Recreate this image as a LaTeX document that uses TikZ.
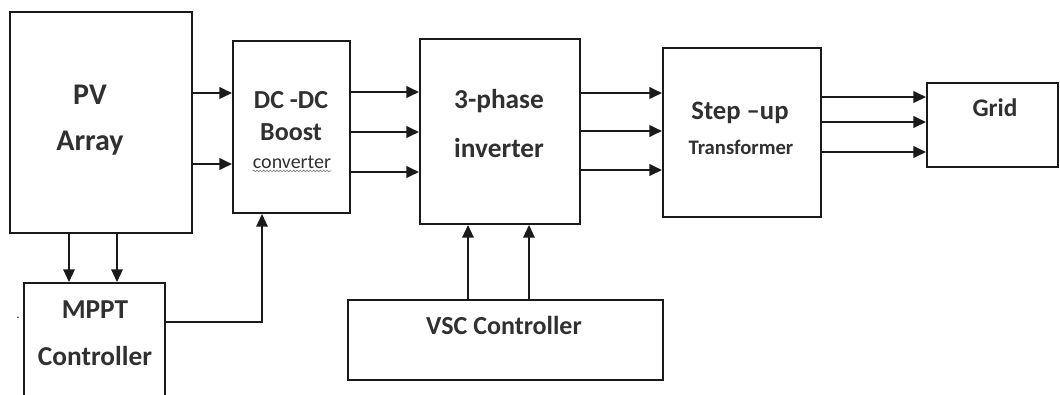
\documentclass[tikz,border=0pt]{standalone}
\usepackage{fontspec}
\setmainfont{Carlito}
\usetikzlibrary{arrows.meta,decorations.pathmorphing}
\definecolor{pvLine}{HTML}{1A1A1A}
\definecolor{pvText}{HTML}{303030}
\newcommand{\pvsize}[2]{\fontsize{#1pt}{#2pt}\selectfont}
\tikzset{
  pvbox/.style 2 args={draw=pvLine,line width=1.4pt,minimum width=#1*0.75pt,
              minimum height=#2*0.75pt,inner sep=0pt},
  pvtxt/.style={text=pvText,align=center,inner sep=0pt},
  pvflow/.style={-{Triangle[length=9.5pt,width=8.5pt]},draw=pvLine,line width=2.1pt},
  pvthin/.style={pvflow,line width=1.5pt},
  pvsquig/.style={decorate,decoration={snake,amplitude=0.6pt,segment length=2.5pt},
              draw=pvText!60,line width=0.5pt},
}

\begin{document}
\begin{tikzpicture}[x=0.75pt,y=-0.75pt]
  \useasboundingbox (0,0) rectangle (1060,394);
  \clip (0,0) rectangle (1060,394);
  % blocks
  \node[pvbox={182}{221}] (pv)   at (101,122.5) {};
  \node[pvbox={117}{172}] (dcdc) at (291.5,127) {};
  \node[pvbox={160}{185}] (inv)  at (500,131.5) {};
  \node[pvbox={158}{169}] (trf)  at (742,132.5) {};
  \node[pvbox={131}{84}]  (grid) at (992.5,125) {};
  \node[pvbox={315}{80}]  (vsc)  at (505.5,340) {};
  \node[pvbox={141}{117}] (mppt) at (94.5,341.5) {};

  % block texts
  \node[pvtxt,font=\bfseries\pvsize{22.5}{34.5}] (pvlbl) at (90,120) {PV\\Array};
  \node[pvtxt,font=\bfseries\pvsize{19.5}{24}] (dclbl) at (291,116) {DC -DC\\Boost};
  \node[pvtxt,font=\pvsize{15}{18}] (cvlbl) at (292,162) {converter};
  \draw[pvsquig] ([yshift=-2pt]cvlbl.base west) -- ([yshift=-2pt]cvlbl.base east);
  \node[pvtxt,font=\bfseries\pvsize{20.5}{36.75}] (invlbl) at (499,123.5) {3-phase\\inverter};
  \node[pvtxt,font=\bfseries\pvsize{20}{24}] (stlbl) at (740,113) {Step –up};
  \node[pvtxt,font=\bfseries\pvsize{15.5}{18}] (tflbl) at (741,147) {Transformer};
  \node[pvtxt,font=\bfseries\pvsize{19}{24}] (grlbl) at (995,108) {Grid};
  \node[pvtxt,font=\bfseries\pvsize{19.5}{24}] (vsclbl) at (504,325) {VSC Controller};
  \node[pvtxt,font=\bfseries\pvsize{20.5}{35.25}] (mplbl) at (95,333.5) {MPPT\\Controller};
  \node[pvtxt,font=\pvsize{10}{12}] (dot) at (18,318) {.};

  % power path
  \foreach \yy in {93,164}{\draw[pvflow] (pv.east |- 0,\yy) -- (dcdc.west |- 0,\yy);}
  \foreach \yy in {92,132,172}{\draw[pvflow] (dcdc.east |- 0,\yy) -- (inv.west |- 0,\yy);}
  \foreach \yy in {93,131,170}{\draw[pvflow] (inv.east |- 0,\yy) -- (trf.west |- 0,\yy);}
  \foreach \yy in {97,122,152}{\draw[pvflow] (trf.east |- 0,\yy) -- (grid.west |- 0,\yy);}
  % control signals
  \foreach \xx in {69,117}{\draw[pvthin] (pv.south -| \xx,0) -- (mppt.north -| \xx,0);}
  \foreach \xx in {468,529}{\draw[pvthin] (vsc.north -| \xx,0) -- (inv.south -| \xx,0);}
  \draw[pvthin] (mppt.east |- 0,322) -| (dcdc.south -| 262,0);
\end{tikzpicture}
\end{document}
